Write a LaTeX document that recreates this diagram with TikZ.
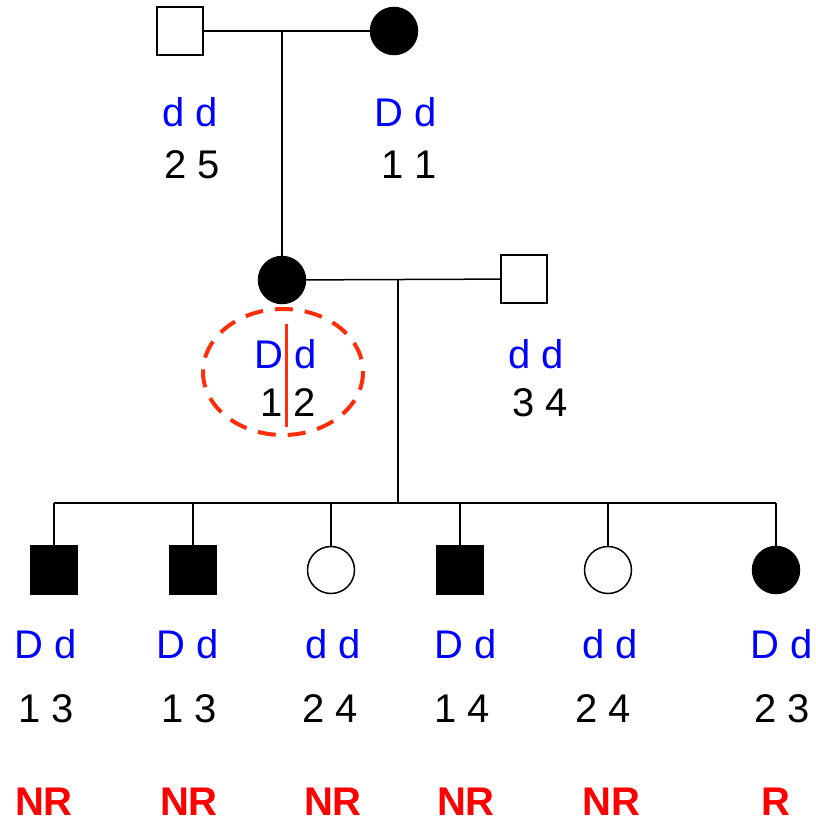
\documentclass[tikz,border=0pt]{standalone}
\usepackage{fontspec}
\setmainfont{Liberation Sans}
\definecolor{geno}{RGB}{0,0,255}
\definecolor{recred}{RGB}{255,0,0}
\definecolor{phase}{RGB}{255,45,10}

\begin{document}
\begin{tikzpicture}[x=1pt, y=-1pt, line width=1.5pt,
	male/.style={draw, rectangle, minimum width=46pt, minimum height=48pt, inner sep=0pt},
	female/.style={draw, circle, minimum size=47pt, inner sep=0pt},
	affected/.style={fill=black},
	allele/.style={anchor=base, inner sep=0pt, text=geno, font=\fontsize{40}{48}\selectfont},
	marker/.style={anchor=base, inner sep=0pt, font=\fontsize{40}{48}\selectfont},
	recomb/.style={anchor=base, inner sep=0pt, text depth=0pt, text=recred, font=\fontsize{40}{48}\selectfont\bfseries}]
	\useasboundingbox (0,0) rectangle (816,822);

	% grandparents
	\node[male] (GF) at (180,31) {};
	\node[female, affected] (GM) at (394,31) {};
	\node[allele] (GFg) at (190,126) {d d};
	\node[marker] (GFm) at (192,178) {2 5};
	\node[allele] (GMg) at (406,126) {D d};
	\node[marker] (GMm) at (409,178) {1 1};

	% parents
	\node[female, affected] (Mo) at (282,280) {};
	\node[male] (Fa) at (524,279) {};
	\node[allele] (Mog) at (286,368) {D d};
	\node[marker] (Mom) at (288,416) {1 2};
	\node[allele] (Fag) at (536,368) {d d};
	\node[marker] (Fam) at (540,416) {3 4};

	\draw (GF) -- (GM);
	\draw (GF -| Mo) -- (Mo);
	\draw (Mo) -- (Fa);
	\coordinate (mate) at (398,280);
	\coordinate (sib) at (398,503);
	\draw (mate) -- (sib);

	% phase of the mother
	\draw[phase, line width=4pt, dash pattern=on 18pt off 12pt] (283,372) ellipse (80 and 63);
	\draw[phase, line width=3pt] (286,324) -- (286,427);

	% children
	\node[male, affected] (C1) at (54,570) {};
	\node[male, affected] (C2) at (193,570) {};
	\node[female] (C3) at (331,570) {};
	\node[male, affected] (C4) at (460,570) {};
	\node[female] (C5) at (608,570) {};
	\node[female, affected] (C6) at (776,570) {};

	\draw (C1 |- sib) -- (C6 |- sib);
	\draw (C1 |- sib) -- (C1);
	\draw (C2 |- sib) -- (C2);
	\draw (C3 |- sib) -- (C3);
	\draw (C4 |- sib) -- (C4);
	\draw (C5 |- sib) -- (C5);
	\draw (C6 |- sib) -- (C6);

	\node[allele] (C1g) at (46,658) {D d};
	\node[allele] (C2g) at (188,658) {D d};
	\node[allele] (C3g) at (333,658) {d d};
	\node[allele] (C4g) at (466,658) {D d};
	\node[allele] (C5g) at (610,658) {d d};
	\node[allele] (C6g) at (782,658) {D d};

	\node[marker] (C1m) at (46,722) {1 3};
	\node[marker] (C2m) at (189,722) {1 3};
	\node[marker] (C3m) at (330,722) {2 4};
	\node[marker] (C4m) at (462,722) {1 4};
	\node[marker] (C5m) at (603,722) {2 4};
	\node[marker] (C6m) at (782,722) {2 3};

	\node[recomb] (C1r) at (44,815) {NR};
	\node[recomb] (C2r) at (189,815) {NR};
	\node[recomb] (C3r) at (333,815) {NR};
	\node[recomb] (C4r) at (466,815) {NR};
	\node[recomb] (C5r) at (611,815) {NR};
	\node[recomb] (C6r) at (776,815) {R};
\end{tikzpicture}
\end{document}
